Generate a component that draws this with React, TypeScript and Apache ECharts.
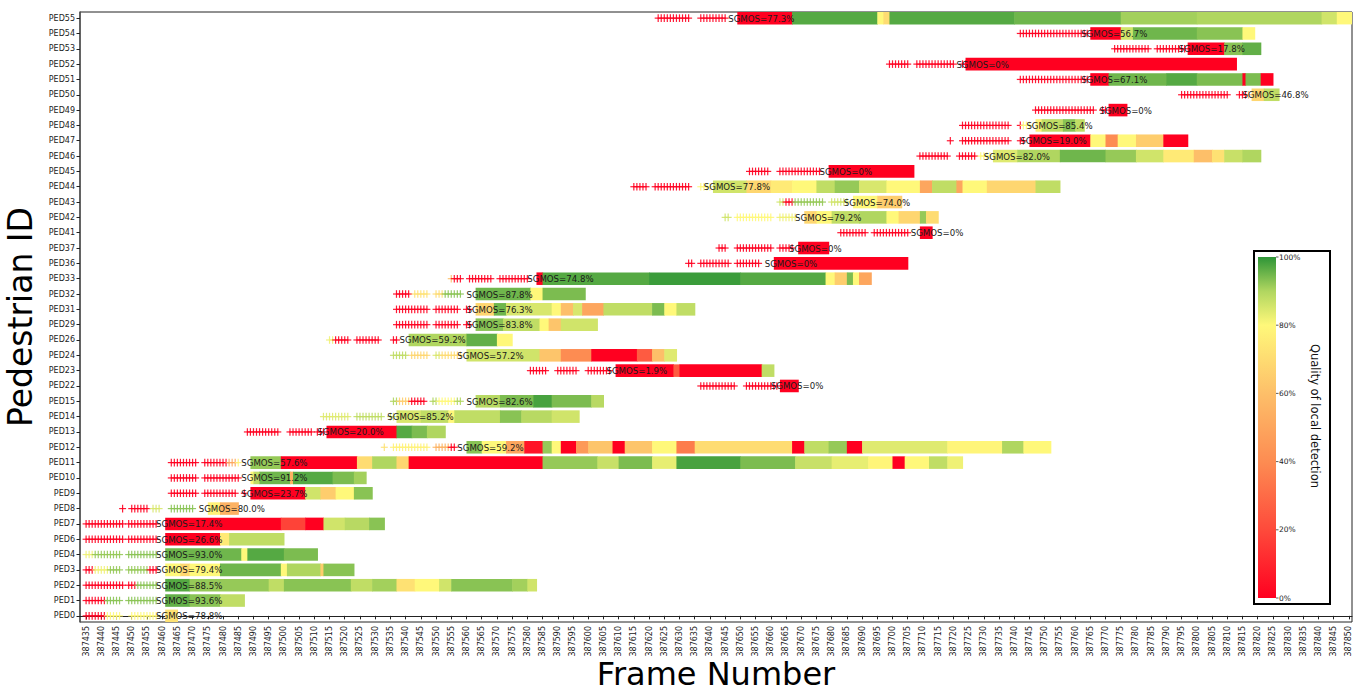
import React, { useEffect, useRef } from "react";
import * as echarts from "echarts";

// ---------- data ----------
const X_MIN = 387433;
const X_MAX = 387851;
const X_TICK_FIRST = 387435;
const X_TICK_LAST = 387850;
const X_TICK_STEP = 5;

const PED_IDS = [
  "PED0", "PED1", "PED2", "PED3", "PED4", "PED6", "PED7", "PED8", "PED9", "PED10",
  "PED11", "PED12", "PED13", "PED14", "PED15", "PED22", "PED23", "PED24", "PED26", "PED29",
  "PED31", "PED32", "PED33", "PED36", "PED37", "PED41", "PED42", "PED43", "PED44", "PED45",
  "PED46", "PED47", "PED48", "PED49", "PED50", "PED51", "PED52", "PED53", "PED54", "PED55",
];

const SGMOS = [
  78.8, 93.6, 88.5, 79.4, 93.0, 26.6, 17.4, 80.0, 23.7, 91.2,
  57.6, 59.2, 20.0, 85.2, 82.6, 0, 1.9, 57.2, 59.2, 83.8,
  76.3, 87.8, 74.8, 0, 0, 0, 79.2, 74.0, 77.8, 0,
  82.0, 19.0, 85.4, 0, 46.8, 67.1, 0, 17.8, 56.7, 77.3,
];

// tracked segments: [startFrame, endFrame, local quality %] per pedestrian (same order as PED_IDS)
const BAR_SEGMENTS: number[][][] = [
  [[387461, 387465, 72]],
  [[387461, 387469, 96], [387469, 387479, 93], [387479, 387487, 88]],
  [[387461, 387469, 97], [387469, 387495, 92], [387495, 387500, 88], [387500, 387522, 93], [387522, 387529, 88], [387529, 387537, 91], [387537, 387543, 72], [387543, 387551, 80], [387551, 387555, 86], [387555, 387575, 93], [387575, 387580, 91], [387580, 387583, 86]],
  [[387461, 387466, 80], [387466, 387469, 68], [387469, 387479, 80], [387479, 387499, 95], [387499, 387501, 80], [387501, 387512, 90], [387512, 387513, 65], [387513, 387523, 93]],
  [[387461, 387486, 95], [387486, 387488, 80], [387488, 387500, 97], [387500, 387511, 94]],
  [[387461, 387479, 0], [387479, 387482, 75], [387482, 387500, 88]],
  [[387461, 387499, 0], [387499, 387507, 18], [387507, 387513, 0], [387513, 387520, 86], [387520, 387528, 89], [387528, 387533, 93]],
  [[387475, 387479, 78], [387479, 387485, 55]],
  [[387489, 387507, 0], [387507, 387512, 86], [387512, 387517, 65], [387517, 387523, 80], [387523, 387529, 93]],
  [[387489, 387490, 80], [387490, 387492, 88], [387492, 387502, 95], [387502, 387503, 55], [387503, 387516, 97], [387516, 387523, 94], [387523, 387527, 91]],
  [[387489, 387499, 92], [387499, 387524, 0], [387524, 387529, 70], [387529, 387537, 90], [387537, 387541, 68], [387541, 387585, 0], [387585, 387603, 92], [387603, 387610, 87], [387610, 387621, 94], [387621, 387629, 83], [387629, 387650, 98], [387650, 387668, 94], [387668, 387680, 87], [387680, 387692, 83], [387692, 387700, 79], [387700, 387704, 0], [387704, 387712, 80], [387712, 387718, 88], [387718, 387723, 82]],
  [[387560, 387565, 93], [387565, 387573, 80], [387573, 387579, 50], [387579, 387585, 5], [387585, 387588, 92], [387588, 387591, 80], [387591, 387596, 0], [387596, 387600, 45], [387600, 387608, 62], [387608, 387612, 0], [387612, 387621, 62], [387621, 387629, 80], [387629, 387635, 35], [387635, 387667, 70], [387667, 387671, 0], [387671, 387679, 88], [387679, 387685, 92], [387685, 387690, 0], [387690, 387718, 84], [387718, 387736, 79], [387736, 387743, 90], [387743, 387752, 80]],
  [[387514, 387537, 0], [387537, 387542, 97], [387542, 387547, 94], [387547, 387553, 90]],
  [[387537, 387545, 85], [387545, 387554, 88], [387554, 387556, 80], [387556, 387571, 88], [387571, 387578, 93], [387578, 387588, 89], [387588, 387597, 86]],
  [[387563, 387571, 89], [387571, 387582, 94], [387582, 387588, 98], [387588, 387601, 94], [387601, 387605, 89]],
  [[387663, 387669, 0]],
  [[387609, 387628, 0], [387628, 387630, 25], [387630, 387657, 0], [387657, 387661, 88]],
  [[387560, 387584, 86], [387584, 387591, 62], [387591, 387601, 40], [387601, 387616, 0], [387616, 387621, 25], [387621, 387625, 60], [387625, 387629, 84]],
  [[387541, 387560, 90], [387560, 387570, 96], [387570, 387575, 80]],
  [[387563, 387572, 93], [387572, 387584, 88], [387584, 387587, 80], [387587, 387591, 62], [387591, 387603, 86]],
  [[387563, 387569, 68], [387569, 387573, 95], [387573, 387588, 85], [387588, 387591, 80], [387591, 387595, 60], [387595, 387598, 85], [387598, 387605, 50], [387605, 387621, 88], [387621, 387625, 94], [387625, 387629, 80], [387629, 387635, 88]],
  [[387563, 387581, 95], [387581, 387585, 80], [387585, 387599, 94]],
  [[387583, 387585, 0], [387585, 387620, 97], [387620, 387650, 99], [387650, 387678, 97], [387678, 387681, 80], [387681, 387685, 65], [387685, 387687, 94], [387687, 387689, 80], [387689, 387693, 50]],
  [[387661, 387705, 0]],
  [[387669, 387679, 0]],
  [[387709, 387713, 0]],
  [[387671, 387675, 68], [387675, 387680, 80], [387680, 387689, 88], [387689, 387698, 90], [387698, 387702, 80], [387702, 387709, 68], [387709, 387711, 92], [387711, 387715, 70]],
  [[387687, 387695, 80], [387695, 387703, 65]],
  [[387641, 387652, 86], [387652, 387660, 68], [387660, 387667, 75], [387667, 387675, 80], [387675, 387681, 88], [387681, 387689, 92], [387689, 387698, 85], [387698, 387709, 80], [387709, 387713, 50], [387713, 387721, 88], [387721, 387723, 50], [387723, 387731, 80], [387731, 387747, 68], [387747, 387755, 88]],
  [[387679, 387707, 0]],
  [[387733, 387741, 84], [387741, 387755, 90], [387755, 387770, 95], [387770, 387780, 92], [387780, 387789, 86], [387789, 387799, 75], [387799, 387805, 60], [387805, 387809, 72], [387809, 387815, 87], [387815, 387821, 90]],
  [[387745, 387765, 0], [387765, 387770, 80], [387770, 387774, 40], [387774, 387780, 80], [387780, 387789, 65], [387789, 387797, 0]],
  [[387747, 387749, 78], [387749, 387756, 88], [387756, 387760, 93], [387760, 387763, 88]],
  [[387771, 387777, 0]],
  [[387818, 387822, 68], [387822, 387827, 88]],
  [[387765, 387771, 0], [387771, 387790, 95], [387790, 387800, 97], [387800, 387815, 94], [387815, 387816, 0], [387816, 387821, 94], [387821, 387825, 0]],
  [[387724, 387813, 0]],
  [[387797, 387809, 0], [387809, 387815, 93], [387815, 387821, 96]],
  [[387765, 387775, 0], [387775, 387779, 86], [387779, 387800, 95], [387800, 387815, 93], [387815, 387819, 80]],
  [[387649, 387667, 0], [387667, 387695, 97], [387695, 387697, 80], [387697, 387699, 70], [387699, 387740, 97], [387740, 387775, 95], [387775, 387800, 91], [387800, 387841, 90], [387841, 387846, 86], [387846, 387851, 80]],
];

// frames before tracking (crosses): [firstFrame, lastFrame, quality %]
const CROSS_SEGMENTS: number[][][] = [
  [[387435, 387441, 0], [387442, 387446, 80], [387450, 387458, 80]],
  [[387435, 387441, 0], [387442, 387446, 93], [387449, 387458, 93]],
  [[387435, 387447, 0], [387449, 387451, 0], [387452, 387458, 93]],
  [[387435, 387437, 0], [387438, 387442, 82], [387443, 387446, 92], [387449, 387455, 92], [387456, 387458, 0]],
  [[387435, 387437, 82], [387438, 387446, 92], [387449, 387458, 93]],
  [[387435, 387447, 0], [387449, 387458, 0]],
  [[387435, 387447, 0], [387449, 387458, 0]],
  [[387447, 387447, 0], [387450, 387455, 0], [387457, 387459, 85], [387463, 387470, 93]],
  [[387463, 387471, 0], [387474, 387484, 0], [387487, 387487, 0]],
  [[387463, 387471, 0], [387474, 387485, 0]],
  [[387463, 387471, 0], [387474, 387481, 0], [387482, 387484, 50], [387485, 387485, 78]],
  [[387533, 387533, 72], [387536, 387547, 78], [387550, 387554, 55], [387555, 387556, 0]],
  [[387488, 387498, 0], [387502, 387509, 0], [387511, 387513, 0]],
  [[387513, 387521, 84], [387524, 387532, 88], [387535, 387536, 86]],
  [[387536, 387537, 90], [387538, 387541, 65], [387542, 387546, 0], [387549, 387550, 90], [387551, 387556, 80], [387557, 387558, 90]],
  [[387637, 387648, 0], [387652, 387662, 0]],
  [[387581, 387586, 0], [387590, 387596, 0], [387600, 387607, 0]],
  [[387536, 387540, 88], [387542, 387547, 68], [387550, 387551, 85], [387552, 387558, 70]],
  [[387515, 387516, 82], [387517, 387521, 0], [387524, 387531, 0], [387536, 387537, 0]],
  [[387537, 387547, 0], [387550, 387557, 0], [387560, 387561, 0]],
  [[387537, 387547, 0], [387550, 387557, 0], [387560, 387561, 0]],
  [[387537, 387541, 0], [387543, 387547, 72], [387550, 387552, 70], [387553, 387558, 93]],
  [[387555, 387555, 60], [387556, 387558, 0], [387561, 387568, 0], [387571, 387580, 0]],
  [[387633, 387634, 0], [387637, 387646, 0], [387649, 387656, 0]],
  [[387643, 387645, 0], [387649, 387660, 0], [387663, 387667, 0]],
  [[387683, 387691, 0], [387694, 387705, 0]],
  [[387645, 387646, 86], [387649, 387660, 80], [387663, 387668, 82]],
  [[387663, 387664, 86], [387665, 387667, 0], [387668, 387677, 92], [387680, 387685, 86]],
  [[387615, 387619, 0], [387622, 387633, 0], [387637, 387640, 80]],
  [[387653, 387659, 0], [387663, 387676, 0]],
  [[387709, 387718, 0], [387722, 387727, 0], [387729, 387732, 80]],
  [[387719, 387719, 0], [387723, 387738, 0], [387742, 387743, 0]],
  [[387723, 387738, 0], [387742, 387742, 0], [387743, 387745, 80]],
  [[387747, 387766, 0], [387769, 387770, 0]],
  [[387795, 387810, 0], [387814, 387816, 0], [387817, 387817, 60]],
  [[387742, 387764, 0]],
  [[387699, 387705, 0], [387708, 387720, 0], [387723, 387724, 0]],
  [[387773, 387784, 0], [387787, 387796, 0]],
  [[387742, 387764, 0]],
  [[387623, 387633, 0], [387637, 387645, 0]],
];

const CBAR_TICKS = [0, 20, 40, 60, 80, 100];

// ---------- style ----------
const COLOR_STOPS: [number, string][] = [
  [0, "#ff0020"],
  [20, "#fe4a3b"],
  [40, "#fd8c52"],
  [60, "#fdbf69"],
  [80, "#fff87a"],
  [90, "#b0d660"],
  [100, "#2e9537"],
];

function hexToRgb(h: string) {
  return [parseInt(h.slice(1, 3), 16), parseInt(h.slice(3, 5), 16), parseInt(h.slice(5, 7), 16)];
}
function qualityColor(q: number) {
  for (let i = 1; i < COLOR_STOPS.length; i++) {
    const [q1, c1] = COLOR_STOPS[i];
    const [q0, c0] = COLOR_STOPS[i - 1];
    if (q <= q1) {
      const t = (q - q0) / (q1 - q0);
      const a = hexToRgb(c0), b = hexToRgb(c1);
      const m = a.map((v, k) => Math.round(v + (b[k] - v) * t));
      return `rgb(${m[0]},${m[1]},${m[2]})`;
    }
  }
  return COLOR_STOPS[COLOR_STOPS.length - 1][1];
}

const FONT = "DejaVu Sans";

export default function App() {
  const ref = useRef<HTMLDivElement>(null);
  useEffect(() => {
    if (!ref.current) return;
    const chart = echarts.init(ref.current, undefined, { renderer: "svg" });

    const xTicks: number[] = [];
    for (let v = X_TICK_FIRST; v <= X_TICK_LAST; v += X_TICK_STEP) xTicks.push(v);
    const yTicks = PED_IDS.map((_, i) => i);

    const barData: number[][] = [];
    const crossData: number[][] = [];
    const labelData: number[][] = [];
    PED_IDS.forEach((_, i) => {
      BAR_SEGMENTS[i].forEach((s) => barData.push([i, s[0], s[1], s[2]]));
      CROSS_SEGMENTS[i].forEach((s) => crossData.push([i, s[0], s[1], s[2]]));
      labelData.push([i, BAR_SEGMENTS[i][0][0], SGMOS[i]]);
    });

    const gradStops = COLOR_STOPS.map(([q, c]) => ({ offset: 1 - q / 100, color: c })).sort(
      (a, b) => a.offset - b.offset
    );

    const cbTop = 257, cbBottom = 598, cbLeft = 1258, cbWidth = 18;
    const graphic: any[] = [
      {
        type: "rect",
        shape: { x: 1254, y: 251, width: 76, height: 353 },
        style: { fill: "#fff", stroke: "#000", lineWidth: 2 },
        z: 100,
      },
      {
        type: "rect",
        shape: { x: cbLeft, y: cbTop, width: cbWidth, height: cbBottom - cbTop },
        style: { fill: { type: "linear", x: 0, y: 0, x2: 0, y2: 1, colorStops: gradStops } },
        z: 101,
      },
      {
        type: "text",
        x: 1315,
        y: 416,
        rotation: -Math.PI / 2,
        style: { text: "Quality of local detection", fontSize: 11.5, fontFamily: FONT, fill: "#111", align: "center", verticalAlign: "middle" },
        z: 101,
      },
    ];
    CBAR_TICKS.forEach((t) => {
      const y = cbBottom - (t / 100) * (cbBottom - cbTop);
      graphic.push({
        type: "line",
        shape: { x1: cbLeft + cbWidth, y1: y, x2: cbLeft + cbWidth + 2.5, y2: y },
        style: { stroke: "#333", lineWidth: 0.8 },
        z: 101,
      });
      graphic.push({
        type: "text",
        x: cbLeft + cbWidth + 3,
        y,
        style: { text: t + "%", fontSize: 7.5, fontFamily: FONT, fill: "#222", align: "left", verticalAlign: "middle" },
        z: 101,
      });
    });

    chart.setOption({
      animation: false,
      backgroundColor: "#fff",
      grid: {
        left: 80, right: 5, top: 12, bottom: 69,
        show: true, borderColor: "#222", borderWidth: 1,
        containLabel: false, outerBoundsMode: "none",
      },
      xAxis: {
        type: "value",
        min: X_MIN,
        max: X_MAX,
        name: "Frame Number",
        nameLocation: "middle",
        nameGap: 36,
        nameMoveOverlap: false,
        nameTextStyle: { fontSize: 32, fontFamily: FONT, color: "#000" },
        axisLine: { show: true, lineStyle: { color: "#222" } },
        axisTick: { show: true, length: 3.5, customValues: xTicks, lineStyle: { color: "#222" } },
        axisLabel: {
          customValues: xTicks,
          rotate: 90,
          fontSize: 8,
          fontFamily: FONT,
          color: "#222",
          margin: 4,
          formatter: (v: number) => String(v),
        },
        splitLine: { show: false },
      },
      yAxis: {
        type: "value",
        min: -0.4,
        max: PED_IDS.length - 1 + 0.4,
        name: "Pedestrian ID",
        nameLocation: "middle",
        nameGap: 43,
        nameTextStyle: { fontSize: 33, fontFamily: FONT, color: "#000" },
        axisLine: { show: true, lineStyle: { color: "#555", width: 1.5 } },
        axisTick: { show: true, length: 3.5, customValues: yTicks, lineStyle: { color: "#222" } },
        axisLabel: {
          customValues: yTicks,
          fontSize: 8,
          fontFamily: FONT,
          color: "#222",
          margin: 5,
          formatter: (v: number) => PED_IDS[Math.round(v)] ?? "",
        },
        splitLine: { show: false },
      },
      graphic,
      series: [
        {
          type: "custom",
          name: "tracked",
          data: barData,
          encode: { x: [1, 2], y: 0 },
          clip: true,
          renderItem: (params: any, api: any) => {
            const row = api.value(0);
            const p0 = api.coord([api.value(1), row]);
            const p1 = api.coord([api.value(2), row]);
            const h = api.size([0, 1])[1] * 0.82;
            return {
              type: "rect",
              shape: { x: p0[0], y: p0[1] - h / 2, width: p1[0] - p0[0] + 0.6, height: h },
              style: { fill: qualityColor(api.value(3)) },
            };
          },
          z: 2,
        },
        {
          type: "custom",
          name: "pre",
          data: crossData,
          encode: { x: [1, 2], y: 0 },
          clip: true,
          renderItem: (params: any, api: any) => {
            const row = api.value(0);
            const s = api.value(1), e = api.value(2);
            const col = qualityColor(api.value(3));
            const children: any[] = [];
            for (let f = s; f <= e; f++) {
              const c = api.coord([f, row]);
              children.push({
                type: "line",
                shape: { x1: c[0] - 3.5, y1: c[1], x2: c[0] + 3.5, y2: c[1] },
                style: { stroke: col, lineWidth: 1.2, opacity: 0.9 },
              });
              children.push({
                type: "line",
                shape: { x1: c[0], y1: c[1] - 3.8, x2: c[0], y2: c[1] + 3.8 },
                style: { stroke: col, lineWidth: 1.2, opacity: 0.9 },
              });
            }
            return { type: "group", children };
          },
          z: 3,
        },
        {
          type: "custom",
          name: "sgmos",
          data: labelData,
          encode: { x: 1, y: 0 },
          clip: false,
          renderItem: (params: any, api: any) => {
            const row = api.value(0);
            const p = api.coord([api.value(1) - 3, row]);
            const v = api.value(2);
            const txt = "SGMOS=" + (v === 0 ? "0%" : v.toFixed(1) + "%");
            return {
              type: "text",
              x: p[0],
              y: p[1] + 0.5,
              style: { text: txt, fontSize: 8.6, fontFamily: FONT, fill: "#1a1a1a", align: "left", verticalAlign: "middle" },
            };
          },
          z: 4,
        },
      ],
    });
    return () => chart.dispose();
  }, []);
  return <div ref={ref} style={{ position: "fixed", left: 0, top: 0, width: 1357, height: 691 }} />;
}
